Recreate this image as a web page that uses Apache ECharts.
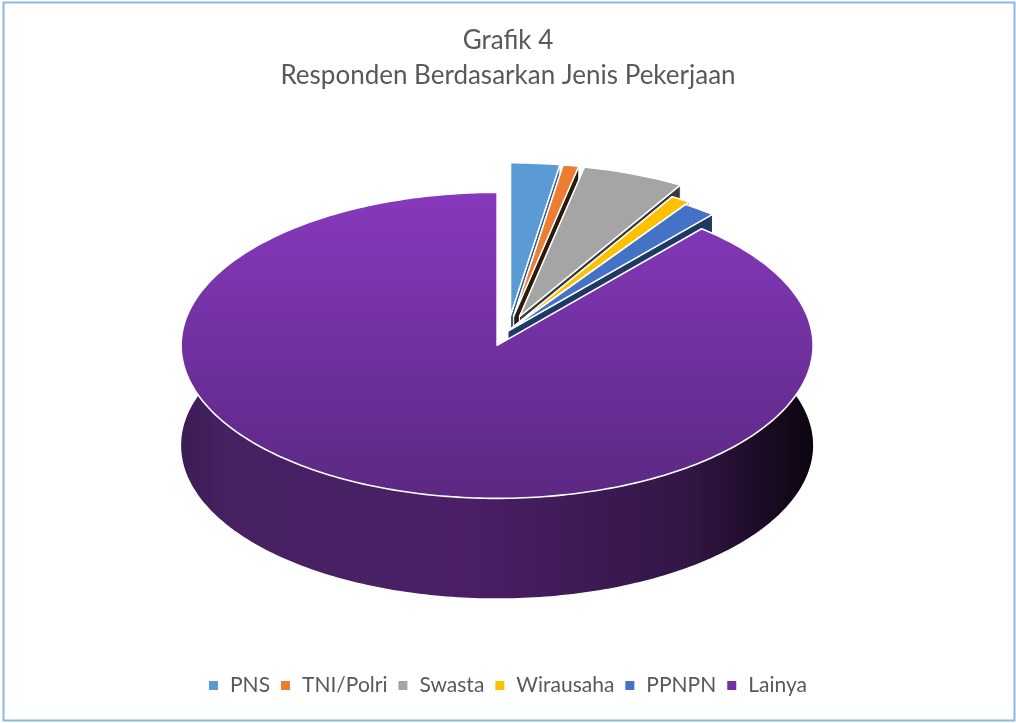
<!DOCTYPE html>
<html><head><meta charset="utf-8">
<script src="https://cdn.jsdelivr.net/npm/echarts@6/dist/echarts.min.js"></script>
<style>html,body{margin:0;padding:0;background:#fff}#c{width:1016px;height:723px}</style>
</head><body><div id="c"></div>
<script>
const categories = ['PNS', 'TNI/Polri', 'Swasta', 'Wirausaha', 'PPNPN', 'Lainya'];
const values = [2.5, 0.8, 5.2, 1.0, 1.7, 88.8];
const titleLines = ['Grafik 4', 'Responden Berdasarkan Jenis Pekerjaan'];

// styles
const topColors = ['#5B9BD5', '#ED7D31', '#A5A5A5', '#FFC000', '#4472C4', '#7030A0'];
const wallColors = ['#2F5F8E', '#2B1A0E', '#3A3A3A', '#7F6000', '#1F3864', '#3A1B52'];
const explodeFactors = [0.1, 0.1, 0.1, 0.02, 0.0, 0.1];

const CX = 508, CY = 331, RX = 316, RY = 153, DEPTH = 100;
const FONT = 'Lato, "Open Sans", sans-serif';

const total = values.reduce((a, b) => a + b, 0);

function rimPts(ox, oy, a0, a1, dy, reverse) {
  const pts = [];
  const n = Math.max(2, Math.ceil((a1 - a0) / (Math.PI / 180)));
  for (let i = 0; i <= n; i++) {
    const t = a0 + (a1 - a0) * i / n;
    pts.push([ox + RX * Math.sin(t), oy - RY * Math.cos(t) + dy]);
  }
  return reverse ? pts.reverse() : pts;
}

function renderSlice(params, api) {
  const idx = params.seriesIndex;
  const v = api.value(0);
  let before = 0;
  for (let i = 0; i < idx; i++) before += values[i];
  const a0 = before / total * Math.PI * 2;
  const a1 = (before + v) / total * Math.PI * 2;
  const mid = (a0 + a1) / 2;
  const e = explodeFactors[idx];
  const ox = CX + e * RX * Math.sin(mid);
  const oy = CY - e * RY * Math.cos(mid);
  const isBig = idx === categories.length - 1;

  const children = [];
  const wallFill = isBig ? new echarts.graphic.LinearGradient(0, 0, 1, 0, [
    { offset: 0, color: '#3c1c55' },
    { offset: 0.08, color: '#462262' },
    { offset: 0.45, color: '#4a1f66' },
    { offset: 0.8, color: '#321646' },
    { offset: 1, color: '#0c0510' }
  ]) : wallColors[idx];
  const wallStroke = isBig ? null : '#ffffff';

  const outer = rimPts(ox, oy, a0, a1, 0, false).concat(rimPts(ox, oy, a0, a1, DEPTH, true));
  children.push({ type: 'polygon', z2: 1, silent: true, shape: { points: outer },
    style: { fill: wallFill, stroke: wallStroke, lineWidth: 1 } });
  [a0, a1].forEach(a => {
    const px = ox + RX * Math.sin(a), py = oy - RY * Math.cos(a);
    children.push({ type: 'polygon', z2: 2, silent: true,
      shape: { points: [[ox, oy], [px, py], [px, py + DEPTH], [ox, oy + DEPTH]] },
      style: { fill: isBig ? '#2a1340' : wallColors[idx], stroke: wallStroke, lineWidth: 1 } });
  });
  const topPts = [[ox, oy]].concat(rimPts(ox, oy, a0, a1, 0, false));
  const topFill = isBig ? new echarts.graphic.LinearGradient(0, 0, 0, 1, [
    { offset: 0, color: '#8739bd' },
    { offset: 1, color: '#5b2882' }
  ]) : topColors[idx];
  children.push({ type: 'polygon', z2: 10 + idx, silent: true, shape: { points: topPts },
    style: { fill: topFill, stroke: '#ffffff', lineWidth: 1.6, lineJoin: 'round' } });
  return { type: 'group', children };
}

const series = categories.map((name, i) => ({
  type: 'custom',
  name: name,
  coordinateSystem: 'none',
  itemStyle: { color: topColors[i] },
  renderItem: renderSlice,
  data: [values[i]],
  animation: false
}));

const chart = echarts.init(document.getElementById('c'), null, { renderer: 'canvas' });
chart.setOption({
  animation: false,
  backgroundColor: '#ffffff',
  title: {
    text: titleLines.join('\n'),
    left: 'center', top: 18,
    textStyle: { fontFamily: FONT, fontSize: 26, fontWeight: 'normal', color: '#595959', lineHeight: 35 }
  },
  legend: {
    data: categories,
    top: 670,
    left: 'center',
    icon: 'rect',
    itemWidth: 9, itemHeight: 9, itemGap: 11,
    textStyle: { fontFamily: FONT, fontSize: 21, color: '#595959', padding: [0, 0, 0, 7] }
  },
  graphic: [{
    type: 'rect', silent: true, z: 100,
    shape: { x: 3.5, y: 2.5, width: 1011, height: 718 },
    style: { fill: null, stroke: '#8db8e3', lineWidth: 2 }
  }],
  series: series
});
</script></body></html>
